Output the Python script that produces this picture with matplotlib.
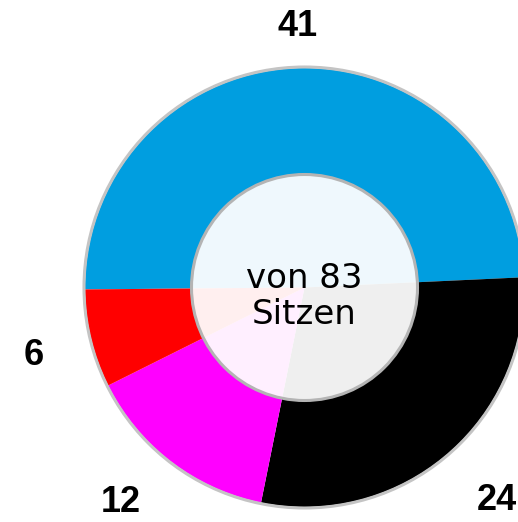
import numpy as np
import matplotlib.pyplot as plt
from matplotlib.patches import Circle

# Sitzverteilung
seats = [41, 24, 12, 6]
colors = ['#009ee0', '#000000', '#ff00ff', '#ff0000']
labels = [str(s) for s in seats]
label_dist = [1.19, 1.31, 1.29, 1.27]
label_turn = [0, 1.5, -3, 0.6]   # small angular nudges (deg)
total = sum(seats)

fig = plt.figure(figsize=(5.18, 5.22), dpi=100)
ax = fig.add_axes([0, 0, 1, 1])

# geometry in pixel units
cx, cy = 304.5, 522 - 287.5
R = 219.5
r_in = 113

wedges, _ = ax.pie(seats, colors=colors, startangle=180.5, counterclock=False,
                   radius=R, center=(cx, cy), wedgeprops=dict(linewidth=0))

# grey rim around the ring
ax.add_patch(Circle((cx, cy), R + 1, fill=False, ec='#c4c4c4', lw=2.2, zorder=3))
# translucent centre disc
ax.add_patch(Circle((cx, cy), r_in, fc=(1, 1, 1, 0.94), ec='#b4b4b4', lw=2.2, zorder=4))

ax.text(cx, cy - 9, f'von {total}\nSitzen', ha='center', va='center', fontsize=24.5,
        family='DejaVu Sans', linespacing=1.12, zorder=5)

# seat numbers outside the ring
for w, lab, d, turn in zip(wedges, labels, label_dist, label_turn):
    theta = np.deg2rad((w.theta1 + w.theta2) / 2 + turn)
    x = cx + R * d * np.cos(theta)
    y = cy + R * d * np.sin(theta)
    ax.text(x, y, lab, ha='center', va='center', fontsize=26, fontweight='bold',
            family='Liberation Sans')

ax.set_xlim(0, 518)
ax.set_ylim(0, 522)
ax.axis('off')

fig.savefig('out.png', dpi=100)
